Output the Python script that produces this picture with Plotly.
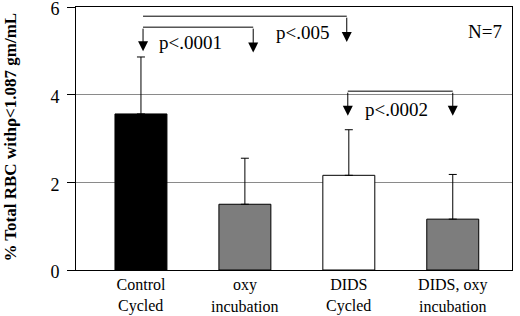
import plotly.graph_objects as go

categories = ["Control Cycled", "oxy incubation", "DIDS Cycled", "DIDS, oxy incubation"]
label_line1 = ["Control", "oxy", "DIDS", "DIDS, oxy"]
label_line2 = ["Cycled", "incubation", "Cycled", "incubation"]
means = [3.56, 1.50, 2.16, 1.16]
errors_plus = [1.30, 1.05, 1.04, 1.02]
bar_colors = ["#000000", "#7d7d7d", "#ffffff", "#7d7d7d"]

y_ticks = [0, 2, 4, 6]

# significance brackets: (x_left, x_right, y_bar, y_tip_left, y_tip_right, label, label_x, label_y)
brackets = [
    (0.02, 1.98, 5.79, None, 5.20, "p<.005", 1.55, 5.42),
    (0.02, 1.08, 5.54, 4.99, 4.96, "p<.0001", 0.48, 5.19),
    (1.99, 3.00, 4.08, 3.52, 3.52, "p<.0002", 2.46, 3.66),
]
n_text = "N=7"

FONT = "Liberation Serif"

fig = go.Figure()
fig.add_trace(go.Bar(
    x=categories, y=means, width=0.5,
    marker=dict(color=bar_colors, line=dict(color="black", width=1)),
    error_y=dict(type="data", symmetric=False, array=errors_plus,
                 arrayminus=[0] * len(means), color="black", thickness=1, width=4),
    showlegend=False, hoverinfo="skip",
))

shapes = []
annotations = []
for xl, xr, yb, ytl, ytr, lab, lx, ly in brackets:
    shapes.append(dict(type="line", xref="x", yref="y", x0=xl, x1=xr, y0=yb, y1=yb,
                       line=dict(color="black", width=1)))
    for xx, tip in ((xl, ytl), (xr, ytr)):
        if tip is None:
            continue
        annotations.append(dict(x=xx, y=tip, ax=xx, ay=yb, xref="x", yref="y",
                                axref="x", ayref="y", text="", showarrow=True,
                                arrowhead=2, arrowsize=2, arrowwidth=1, arrowcolor="black"))
    annotations.append(dict(x=lx, y=ly, xref="x", yref="y", text=lab, showarrow=False,
                            font=dict(family=FONT, size=19, color="black")))

annotations.append(dict(x=3.31, y=5.45, xref="x", yref="y", text=n_text, showarrow=False,
                        font=dict(family=FONT, size=19, color="black")))

for i, t in enumerate(label_line2):
    annotations.append(dict(x=i, y=-0.137, xref="x", yref="paper", text=t, showarrow=False,
                            yanchor="middle", font=dict(family=FONT, size=16, color="black")))

annotations.append(dict(x=-0.151, y=0.504, xref="paper", yref="paper",
                        xanchor="center", yanchor="middle",
                        text="<b>% Total RBC withρ<1.087 gm/mL</b>", textangle=-90,
                        showarrow=False, font=dict(family=FONT, size=17, color="black")))

fig.update_layout(
    width=520, height=316,
    margin=dict(l=76, r=8, t=7, b=46),
    plot_bgcolor="white", paper_bgcolor="white",
    font=dict(family=FONT, color="black"),
    shapes=shapes, annotations=annotations,
    xaxis=dict(type="category", range=[-0.625, 3.57], tickmode="array",
               tickvals=categories, ticktext=label_line1, ticks="",
               showline=True, linecolor="black", linewidth=1, mirror=True,
               showgrid=False, automargin=False,
               tickfont=dict(family=FONT, size=16, color="black")),
    yaxis=dict(range=[0, 6], tickvals=y_ticks, ticks="outside", ticklen=8,
               tickcolor="black", showline=True, linecolor="black", linewidth=1,
               mirror=True, showgrid=True, gridcolor="#8a8a8a", gridwidth=1,
               zeroline=False, ticklabelstandoff=4, automargin=False,
               ticklabeloverflow="allow", ticklabelshift=2,
               tickfont=dict(family=FONT, size=18, color="black")),
)

fig.write_html("out.html", config={"displayModeBar": False},
               post_script="document.body.style.margin='0';")
